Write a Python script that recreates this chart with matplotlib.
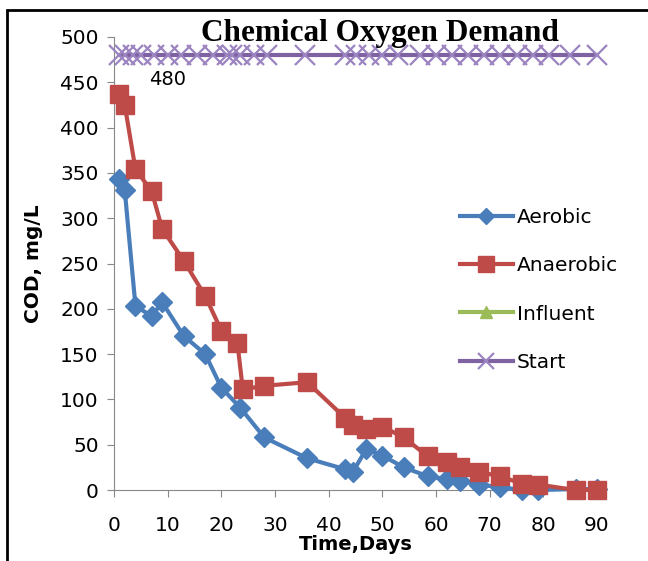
import matplotlib
matplotlib.use("Agg")
import matplotlib.pyplot as plt
from matplotlib import patches

# 数据
aerobic_days = [1, 2, 4, 7, 9, 13, 17, 20, 23.5, 28, 36, 43, 44.5, 47, 50, 54, 58.5, 62, 64.5, 68, 72, 76, 79, 86, 90]
aerobic_cod = [343, 331, 203, 192, 207, 170, 150, 113, 91, 58, 35, 23, 20, 45, 38, 25, 15, 12, 10, 6, 3, 0, 0, 1, 1]

anaerobic_days = [1, 2, 4, 7, 9, 13, 17, 20, 23, 24, 28, 36, 43, 44.5, 47, 50, 54, 58.5, 62, 64.5, 68, 72, 76, 79, 86, 90]
anaerobic_cod = [437, 425, 354, 330, 288, 253, 214, 176, 162, 111, 115, 119, 80, 72, 67, 70, 58, 37, 31, 25, 20, 15, 7, 6, 0, 0]

start_days = [1, 2, 3.5, 5, 7.5, 10, 12.5, 15.5, 18.5, 21, 22, 23.5, 26, 28.5, 35.5, 43,
              45, 47.5, 50, 53, 57, 60, 63, 66, 69, 72, 75, 78, 81, 85, 90]
start_cod = [480] * len(start_days)
# Influent 在图里看不到点, 只有图例
influent_days = []
influent_cod = []

x_ticks = [0, 10, 20, 30, 40, 50, 60, 70, 80, 90]
y_ticks = [0, 50, 100, 150, 200, 250, 300, 350, 400, 450, 500]

plt.rcParams["font.family"] = ["DejaVu Sans"]

fig = plt.figure(figsize=(6.48, 5.61), dpi=100)
ax = fig.add_axes([114 / 648, 1 - 490 / 561, 483 / 648, 453 / 561])

ax.plot(aerobic_days, aerobic_cod, color="#4A7EBB", lw=3, marker="D", ms=10,
        label="Aerobic", clip_on=False, zorder=3)
ax.plot(anaerobic_days, anaerobic_cod, color="#BE4B48", lw=3, marker="s", ms=13,
        label="Anaerobic", clip_on=False, zorder=4)
ax.plot(influent_days, influent_cod, color="#9BBB59", lw=3, marker="^", ms=10,
        label="Influent", clip_on=False, zorder=2)
ax.plot(start_days, start_cod, color="#7F62A1", lw=3, marker="x", ms=14, mew=1.6,
        markeredgecolor="#9B84C0", label="Start", clip_on=False, zorder=5)

ax.text(6.5, 453, "480", fontsize=14, ha="left", va="center")

ax.set_xlim(0, 90)
ax.set_ylim(0, 500)
ax.set_xticks(x_ticks)
ax.set_yticks(y_ticks)
ax.tick_params(direction="out", length=5, color="#888888", labelsize=14.5)
ax.tick_params(axis="x", pad=14)
ax.tick_params(axis="y", pad=6)
for side in ["top", "right"]:
    ax.spines[side].set_visible(False)
for side in ["left", "bottom"]:
    ax.spines[side].set_color("#888888")

ax.set_xlabel("Time,Days", fontsize=14, fontweight="bold", labelpad=0)
ax.set_ylabel("COD, mg/L", fontsize=14.5, fontweight="bold", labelpad=12)

fig.text(380 / 648, 1 - 33 / 561, "Chemical Oxygen Demand", family="Liberation Serif",
         fontsize=22.5, fontweight="bold", ha="center", va="center")

leg = ax.legend(loc="upper left", bbox_to_anchor=(0.70, 0.64), frameon=False, fontsize=14.5,
                handlelength=2.6, labelspacing=1.45, handletextpad=0.2, borderaxespad=0,
                markerscale=0.85)

# 外边框 (只在左边和上边可见)
fig.patches.append(patches.Rectangle((7 / 648, -0.1), 1.2, 1.1 - 10 / 561,
                                     transform=fig.transFigure, fill=False,
                                     edgecolor="black", lw=2))

plt.savefig("out.png", dpi=100)
